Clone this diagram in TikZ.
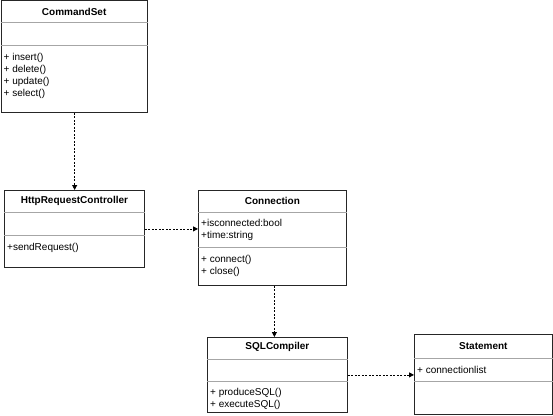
\documentclass[tikz,border=0pt]{standalone}
\usepackage{fontspec}
\setmainfont{Liberation Sans}
\usetikzlibrary{arrows.meta}
\begin{document}
\begin{tikzpicture}[x=1pt,y=-1pt,
  umlbox/.style={draw=black!85,line width=0.8pt,rectangle,anchor=north west,inner sep=0pt,fill=white},
  divline/.style={draw=black!35,line width=0.8pt},
  ttl/.style={font=\fontsize{10}{12}\selectfont\bfseries,inner sep=0pt},
  itm/.style={font=\fontsize{10}{12}\selectfont,inner sep=0pt,anchor=north west,align=left},
  dep/.style={draw=black,line width=0.8pt,dash pattern=on 2pt off 1.5pt,-{Triangle[length=5pt,width=5pt]}}]
\useasboundingbox (0,0) rectangle (553,415);
\fill[white] (0,0) rectangle (553,415);

% CommandSet
\node[umlbox,minimum width=146.5pt,minimum height=111.5pt] (cs) at (0.5,0.5) {};
\draw[divline] ([yshift=-22pt]cs.north west) -- ([yshift=-22pt]cs.north east);
\draw[divline] ([yshift=-45pt]cs.north west) -- ([yshift=-45pt]cs.north east);
\node[ttl] (cst) at ([yshift=-11pt]cs.north) {CommandSet};
\node[itm] (csm) at ([shift={(3pt,-53pt)}]cs.north west) {+ insert()\\+ delete()\\+ update()\\+ select()};

% HttpRequestController
\node[umlbox,minimum width=140pt,minimum height=77pt] (hrc) at (4,190) {};
\draw[divline] ([yshift=-22pt]hrc.north west) -- ([yshift=-22pt]hrc.north east);
\draw[divline] ([yshift=-45pt]hrc.north west) -- ([yshift=-45pt]hrc.north east);
\node[ttl] (hrct) at ([yshift=-10.5pt]hrc.north) {HttpRequestController};
\node[itm] (hrcm) at ([shift={(3pt,-53.5pt)}]hrc.north west) {+sendRequest()};

% Connection
\node[umlbox,minimum width=148pt,minimum height=95pt] (conn) at (198,190) {};
\draw[divline] ([yshift=-22pt]conn.north west) -- ([yshift=-22pt]conn.north east);
\draw[divline] ([yshift=-57pt]conn.north west) -- ([yshift=-57pt]conn.north east);
\node[ttl] (connt) at ([yshift=-10.5pt]conn.north) {Connection};
\node[itm] (conna) at ([shift={(3pt,-29.5pt)}]conn.north west) {+isconnected:bool\\+time:string};
\node[itm] (connm) at ([shift={(3pt,-65.5pt)}]conn.north west) {+ connect()\\+ close()};

% SQLCompiler
\node[umlbox,minimum width=140pt,minimum height=75pt] (sql) at (207,337) {};
\draw[divline] ([yshift=-22pt]sql.north west) -- ([yshift=-22pt]sql.north east);
\draw[divline] ([yshift=-44pt]sql.north west) -- ([yshift=-44pt]sql.north east);
\node[ttl] (sqlt) at ([yshift=-9.5pt]sql.north) {SQLCompiler};
\node[itm] (sqlm) at ([shift={(3pt,-51.5pt)}]sql.north west) {+ produceSQL()\\+ executeSQL()};

% Statement
\node[umlbox,minimum width=138pt,minimum height=80pt] (st) at (414,334) {};
\draw[divline] ([yshift=-24pt]st.north west) -- ([yshift=-24pt]st.north east);
\draw[divline] ([yshift=-47pt]st.north west) -- ([yshift=-47pt]st.north east);
\node[ttl] (stt) at ([yshift=-12pt]st.north) {Statement};
\node[itm] (sta) at ([shift={(3pt,-32.5pt)}]st.north west) {+ connectionlist};

% connectors
\draw[dep] ([xshift=0.5pt]cs.south) -- ([xshift=0.5pt]cs.south |- hrc.north);
\draw[dep] (hrc.east) -- (conn.west |- hrc.east);
\draw[dep] ([xshift=2pt]conn.south) -- ([xshift=2pt]conn.south |- sql.north);
\draw[dep] (sql.east) -- (st.west |- sql.east);
\end{tikzpicture}
\end{document}
